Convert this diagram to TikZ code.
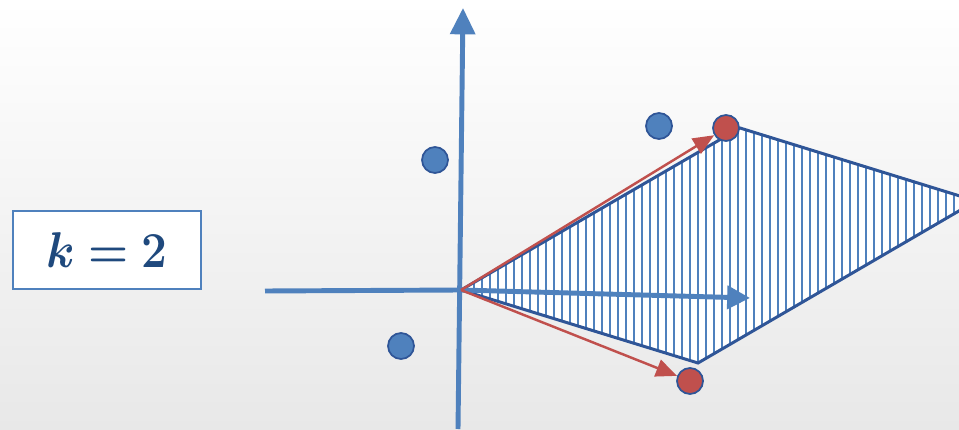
\documentclass[tikz,border=0pt]{standalone}
\usepackage{graphicx}
\usepackage{amsmath}
\usepackage{bm}
\usepackage{xcolor}
\usetikzlibrary{arrows.meta, positioning}

\definecolor{axisblue}{RGB}{79,129,189}
\definecolor{edgeblue}{RGB}{47,85,151}
\definecolor{dotred}{RGB}{192,80,77}
\definecolor{textblue}{RGB}{31,73,125}

\begin{document}
\begin{tikzpicture}[
  x=0.02cm, y=0.02cm,
  axis/.style={draw=axisblue, line width=2.8pt},
  hatch/.style={draw=axisblue, line width=1pt},
  redvec/.style={draw=dotred, line width=1.4pt, -{Triangle[length=12pt, width=10pt]}},
  bluedot/.style={circle, draw=edgeblue, fill=axisblue, line width=1pt, minimum size=0.52cm, inner sep=0pt},
  reddot/.style={circle, draw=edgeblue, fill=dotred, line width=1pt, minimum size=0.52cm, inner sep=0pt},
  kbox/.style={draw=axisblue, line width=1.1pt, fill=white, minimum width=3.76cm, minimum height=1.56cm, align=center},
  >=Stealth
]
\useasboundingbox (0,0) rectangle (959,429);
\shade[top color=white, bottom color=black!9] (0,0) rectangle (959,429);

\coordinate (O) at (461,139);
\coordinate (top) at (463,421);
\coordinate (bottom) at (458,0);
\coordinate (left) at (265,138);
\coordinate (A) at (740,301);
\coordinate (B) at (698,66);
\coordinate (C) at (976,228);
\coordinate (tip) at (750,131);

% hatched cell
\fill[white] (O) -- (A) -- (C) -- (B) -- cycle;
\begin{scope}
  \clip (O) -- (A) -- (C) -- (B) -- cycle;
  \foreach \x in {466,474,...,978}
    \draw[hatch] (\x,50) -- (\x,310);
\end{scope}
\draw[edgeblue, line width=1.7pt, line join=miter] (O) -- (A) -- (C) -- (B) -- cycle;

% axes
\draw[axis] (left) -- (O);
\draw[axis, -{Triangle[length=15pt, width=14pt]}] (bottom) -- (top);
\draw[axis, -{Triangle[length=13pt, width=13pt]}] (O) -- (tip);

% points
\node[bluedot] (p1) at (659,303) {};
\node[bluedot] (p2) at (435,269) {};
\node[bluedot] (p3) at (401,83) {};
\node[reddot] (q1) at (726,301) {};
\node[reddot] (q2) at (690,48) {};

\draw[redvec] (O) -- (q1);
\draw[redvec] (O) -- (q2);

\node[kbox] (k) at (107,179) {\color{textblue}\scalebox{1.05}[1.15]{\fontsize{24.88}{30}\selectfont$\bm{k=2}$}};
\end{tikzpicture}
\end{document}
